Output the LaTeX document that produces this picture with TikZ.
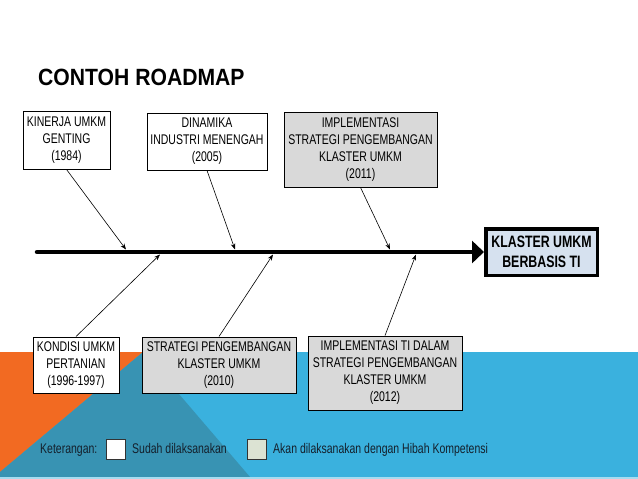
\documentclass[tikz,border=0pt]{standalone}
\usepackage{fontspec}
\usetikzlibrary{arrows.meta}
\newfontfamily\nfont[FakeStretch=0.75]{Liberation Sans}
\newfontfamily\tfont[FakeStretch=0.9]{Liberation Sans}
\definecolor{bandblue}{HTML}{3AB1DE}
\definecolor{bandteal}{HTML}{3893B3}
\definecolor{bandorange}{HTML}{F26A22}
\definecolor{boxgray}{HTML}{D9D9D9}
\definecolor{goalfill}{HTML}{D6E1EF}
\definecolor{legendgreen}{HTML}{DCE3D3}
\definecolor{legendtext}{HTML}{14202C}
\tikzset{
  evbox/.style={draw=black, line width=0.9pt, rectangle, inner sep=0pt, align=center,
    font=\nfont\fontsize{14}{17}\selectfont},
  donebox/.style={evbox, fill=white},
  planbox/.style={evbox, fill=boxgray},
  goalbox/.style={draw=black, line width=3.5pt, fill=goalfill, rectangle, inner sep=0pt,
    align=center, font=\nfont\bfseries\fontsize{16.5}{20}\selectfont},
  conn/.style={draw=black, line width=0.6pt, -{Stealth[length=6pt,width=4.5pt]}},
  spine/.style={draw=black, line width=4.5pt, line cap=round, -{Triangle[length=12pt,width=22pt]}},
  legtext/.style={anchor=base west, inner sep=0pt, text=legendtext, font=\nfont\fontsize{14}{17}\selectfont},
  legbox/.style={draw=black!80, line width=0.8pt, rectangle, inner sep=0pt, minimum width=19pt, minimum height=20pt}
}
\begin{document}
\begin{tikzpicture}[x=1pt,y=-1pt]
\useasboundingbox (0,0) rectangle (638,479);
% background band
\fill[bandblue] (0,352) rectangle (638,477);
\fill[bandorange] (0,352) -- (143,352) -- (0,472) -- cycle;
\fill[bandteal] (143,352) -- (250,477) -- (0,477) -- (0,472) -- cycle;
\fill[bandblue!45!white] (0,477) rectangle (638,479);
% title
\node[anchor=base west, inner sep=0pt, font=\tfont\bfseries\fontsize{23.5}{28}\selectfont] (title) at (38,85) {CONTOH ROADMAP};
% boxes top
\node[donebox, minimum width=87pt, minimum height=58pt] (k1) at (66.5,140) {KINERJA UMKM\\GENTING\\(1984)};
\node[donebox, minimum width=120pt, minimum height=57pt] (k2) at (207,141.5) {DINAMIKA\\INDUSTRI MENENGAH\\(2005)};
\node[planbox, minimum width=153pt, minimum height=75pt] (k3) at (360.5,149.5) {IMPLEMENTASI\\STRATEGI PENGEMBANGAN\\KLASTER UMKM\\(2011)};
% boxes bottom
\node[donebox, minimum width=86pt, minimum height=56pt] (b1) at (76,365) {KONDISI UMKM\\PERTANIAN\\(1996-1997)};
\node[planbox, minimum width=154pt, minimum height=56pt] (b2) at (219,365) {STRATEGI PENGEMBANGAN\\KLASTER UMKM\\(2010)};
\node[planbox, minimum width=154pt, minimum height=74pt] (b3) at (385,373) {IMPLEMENTASI TI DALAM\\STRATEGI PENGEMBANGAN\\KLASTER UMKM\\(2012)};
% goal
\node[goalbox, minimum width=111.5pt, minimum height=46.5pt] (goal) at (541.5,252) {KLASTER UMKM\\BERBASIS TI};
% spine
\coordinate (start) at (37,252);
\draw[spine] (start) -- (goal.west);
% connector ends on the spine
\coordinate (t1) at (126,249.5);
\coordinate (t2) at (235,249.5);
\coordinate (t3) at (390,249.5);
\coordinate (u1) at (160,254.5);
\coordinate (u2) at (273,254.5);
\coordinate (u3) at (416,254.5);
\draw[conn] (k1.south) -- (t1);
\draw[conn] (k2.south) -- (t2);
\draw[conn] (k3.south) -- (t3);
\draw[conn] (b1.north) -- (u1);
\draw[conn] (b2.north) -- (u2);
\draw[conn] (b3.north) -- (u3);
% legend
\node[legtext] (lg0) at (40,453) {Keterangan:};
\node[legbox, fill=white] (lg1) at (115.5,449) {};
\node[legtext] (lg2) at (132,453) {Sudah dilaksanakan};
\node[legbox, fill=legendgreen] (lg3) at (257,449) {};
\node[legtext] (lg4) at (273,453) {Akan dilaksanakan dengan Hibah Kompetensi};
\end{tikzpicture}
\end{document}
